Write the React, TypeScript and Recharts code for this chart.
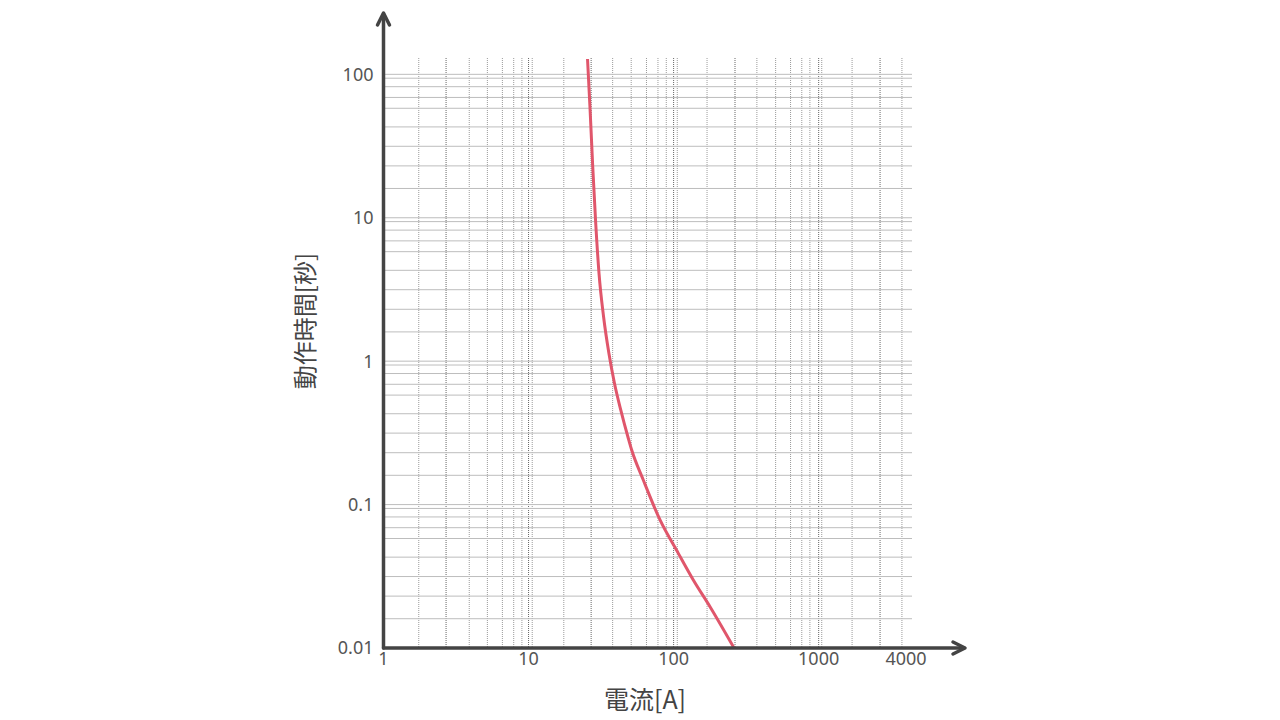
import React from 'react';
import { LineChart, Line, XAxis, YAxis, CartesianGrid } from 'recharts';

// operating curve (current in A, time in s)
const current = [25.5, 26.5, 27.7, 29.0, 30.6, 32.9, 35.8, 39.1, 43.2, 48.7, 51.4, 61.8, 80.6, 107.8, 136.7, 178.2, 261];
const time = [128, 59.5, 22.7, 9.38, 4.1, 2.04, 1.134, 0.701, 0.457, 0.29, 0.24, 0.1484, 0.0781, 0.0457, 0.0298, 0.0194, 0.01];

const xTicks = [1, 10, 100, 1000, 4000];
const yTicks = [0.01, 0.1, 1, 10, 100];

// grid of the printed log paper
const xGridLight = [1.75, 3.9, 5.2, 6.6, 7.9, 9.0, 10.6, 17.5, 38, 51, 65, 78, 89, 106, 170, 375, 505, 640, 765, 870, 1050, 1700, 3750];
const xGridDark = [2.7, 10, 27, 100, 265, 1000, 2650];
const yGrid = [
  100, 94, 82, 69, 58, 43, 31.5, 23, 16,
  10, 9.4, 8.2, 6.9, 5.8, 4.3, 3.15, 2.3, 1.6,
  1, 0.94, 0.82, 0.69, 0.58, 0.43, 0.315, 0.23, 0.16,
  0.1, 0.094, 0.082, 0.069, 0.058, 0.043, 0.0315, 0.023, 0.016,
];

const xDomain: [number, number] = [1, 4400];
const yDomain: [number, number] = [0.01, 130];

const data = current.map((c, i) => ({ current: c, time: time[i] }));

const W = 1280;
const H = 720;
const PLOT_LEFT = 383.5;
const PLOT_RIGHT = 912;
const PLOT_TOP = 58;
const PLOT_BOTTOM = 648;
const Y_AXIS_W = 60;
const X_AXIS_H = 30;

const axisColor = '#444';
const tickStyle = { fill: '#555', fontSize: 18, fontFamily: '"Noto Sans", sans-serif' };
const titleFont = '"Noto Sans CJK JP", "Noto Sans", sans-serif';

export default function App() {
  return (
    <div style={{ position: 'absolute', left: 0, top: 0, width: W, height: H, background: '#fff' }}>
      <LineChart
        width={W}
        height={H}
        data={data}
        margin={{
          top: PLOT_TOP,
          right: W - PLOT_RIGHT,
          bottom: H - PLOT_BOTTOM - X_AXIS_H,
          left: PLOT_LEFT - Y_AXIS_W,
        }}
      >
        <XAxis
          dataKey="current"
          type="number"
          scale="log"
          domain={xDomain}
          ticks={xTicks}
          interval={0}
          allowDataOverflow
          height={X_AXIS_H}
          axisLine={false}
          tickLine={false}
          tickSize={2}
          tick={tickStyle}
        />
        <YAxis
          dataKey="time"
          type="number"
          scale="log"
          domain={yDomain}
          ticks={yTicks}
          interval={0}
          allowDataOverflow
          width={Y_AXIS_W}
          axisLine={false}
          tickLine={false}
          tickSize={8}
          tick={tickStyle}
        />

        <CartesianGrid horizontal={false} verticalValues={xGridLight} stroke="#9a9a9a" strokeDasharray="1 1" />
        <CartesianGrid horizontal={false} verticalValues={xGridDark} stroke="#666" strokeDasharray="1 1" />
        <CartesianGrid vertical={false} horizontalValues={yGrid} stroke="#bdbdbd" />

        <Line
          dataKey="time"
          type="monotone"
          stroke="#e0566b"
          strokeWidth={3}
          dot={false}
          isAnimationActive={false}
        />
      </LineChart>

      <svg
        width={W}
        height={H}
        style={{ position: 'absolute', left: 0, top: 0, pointerEvents: 'none' }}
      >
        <g stroke={axisColor} strokeWidth={3.5} fill="none" strokeLinecap="round" strokeLinejoin="round">
          <line x1={PLOT_LEFT} y1={PLOT_BOTTOM} x2={PLOT_LEFT} y2={14} />
          <polyline points={`${PLOT_LEFT - 6},25 ${PLOT_LEFT},13 ${PLOT_LEFT + 6},25`} />
          <line x1={PLOT_LEFT} y1={PLOT_BOTTOM} x2={964} y2={PLOT_BOTTOM} />
          <polyline points={`953,${PLOT_BOTTOM - 6} 965,${PLOT_BOTTOM} 953,${PLOT_BOTTOM + 6}`} />
        </g>
        <text
          x={303}
          y={321}
          transform="rotate(-90 303 321)"
          textAnchor="middle"
          dominantBaseline="central"
          fill={axisColor}
          fontSize={24}
          fontFamily={titleFont}
        >
          動作時間[秒]
        </text>
        <text
          x={645}
          y={698}
          textAnchor="middle"
          dominantBaseline="central"
          fill={axisColor}
          fontSize={25}
          fontFamily={titleFont}
        >
          電流[A]
        </text>
      </svg>
    </div>
  );
}
